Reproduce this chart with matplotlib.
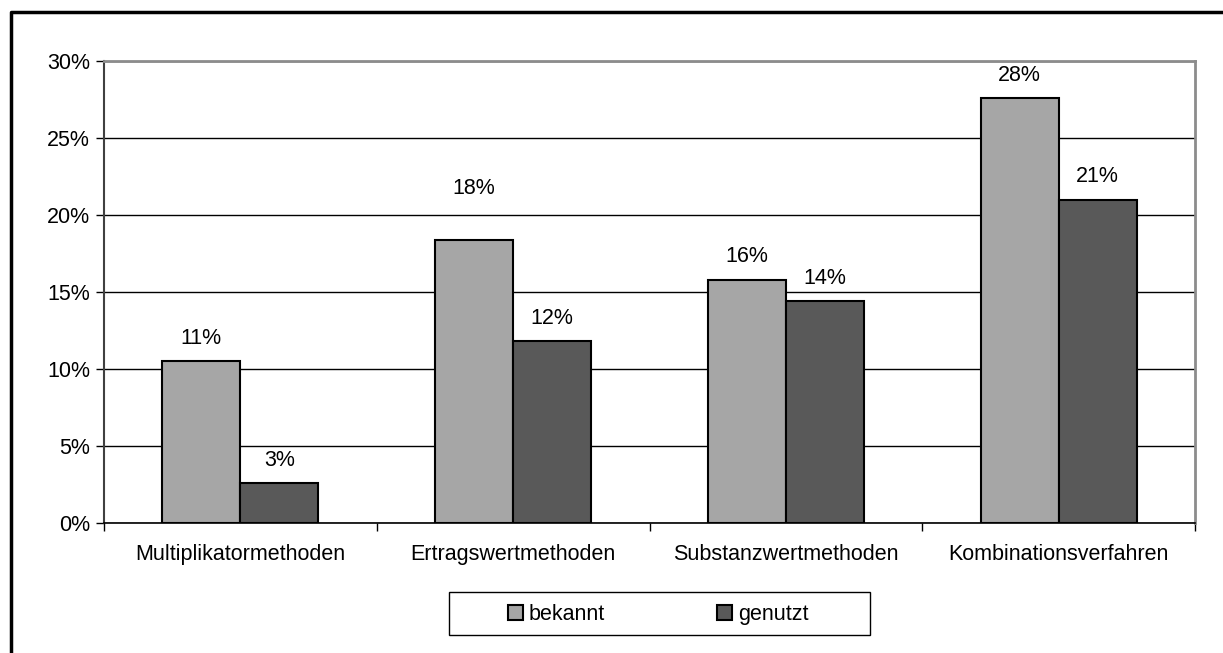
import numpy as np
import matplotlib.pyplot as plt
from matplotlib.lines import Line2D
from matplotlib.patches import Rectangle
from matplotlib.ticker import FixedLocator, PercentFormatter

plt.rcParams['font.family'] = ['Liberation Sans', 'DejaVu Sans']

categories = ["Multiplikatormethoden", "Ertragswertmethoden", "Substanzwertmethoden", "Kombinationsverfahren"]
bekannt = [10.5, 18.4, 15.8, 27.6]
genutzt = [2.6, 11.8, 14.4, 21.0]
series_names = ["bekannt", "genutzt"]
colors = ["#a6a6a6", "#595959"]

FS = 15.5
W, H = 1223, 653
fig = plt.figure(figsize=(W / 100, H / 100), dpi=100)
ax = fig.add_axes([104 / W, 1 - 523 / H, (1195 - 104) / W, (523 - 61) / H])

x = np.arange(len(categories))
bw = 0.286
bars1 = ax.bar(x - bw / 2, bekannt, bw, color=colors[0], edgecolor="black", linewidth=1.5,
               label=series_names[0], zorder=3)
bars2 = ax.bar(x + bw / 2, genutzt, bw, color=colors[1], edgecolor="black", linewidth=1.5,
               label=series_names[1], zorder=3)

# value labels, rounded half up like excel (the 18% one sits higher in the original)
for bars, vals in ((bars1, bekannt), (bars2, genutzt)):
    for b, v in zip(bars, vals):
        off = 16.5
        if v == 18.4:
            off = 36.5
        ax.annotate(f"{int(v + 0.5)}%", (b.get_x() + b.get_width() / 2, v), xytext=(0, off),
                    textcoords="offset points", ha="center", va="center", fontsize=FS)

ax.set_xlim(-0.5, len(categories) - 0.5)
ax.set_ylim(0, 30)
ax.yaxis.set_major_locator(FixedLocator(np.arange(0, 31, 5)))
ax.yaxis.set_major_formatter(PercentFormatter(decimals=0))
ax.grid(axis="y", color="black", linewidth=1.0, zorder=0)
ax.set_axisbelow(True)

ax.set_xticks(x)
ax.set_xticklabels(categories, fontsize=FS)
ax.set_xticks(np.arange(-0.5, len(categories)), minor=True)
ax.tick_params(axis="x", which="major", length=0, pad=15)
ax.tick_params(axis="x", which="minor", length=6, width=1, color="black", direction="out")
ax.tick_params(axis="y", length=6, width=1, color="black", labelsize=FS, pad=4)

ax.spines["top"].set_color("#8c8c8c")
ax.spines["right"].set_color("#8c8c8c")
ax.spines["top"].set_linewidth(2)
ax.spines["right"].set_linewidth(2)
ax.spines["left"].set_color("#404040")
ax.spines["left"].set_linewidth(1.5)
ax.spines["bottom"].set_color("black")
ax.spines["bottom"].set_linewidth(1.2)

# legend box drawn separately so the entries sit in the middle
fig.add_artist(Rectangle((449 / W, 1 - 635 / H), (870 - 449) / W, (635 - 592) / H,
                         transform=fig.transFigure, facecolor="white", edgecolor="black",
                         linewidth=1.0))
leg = fig.legend(handles=[bars1, bars2], labels=series_names, ncol=2, loc="center",
                 bbox_to_anchor=(658 / W, 1 - 614.5 / H), frameon=False, fontsize=FS,
                 handlelength=0.7, handleheight=0.7, handletextpad=0.28,
                 columnspacing=5.2, borderaxespad=0)

# outer chart frame (left and top edges visible)
fig.add_artist(Line2D([11 / W, 11 / W, 1], [0, 1 - 12 / H, 1 - 12 / H],
                      transform=fig.transFigure, color="black", linewidth=2.5))

fig.savefig("out.png", dpi=100)
